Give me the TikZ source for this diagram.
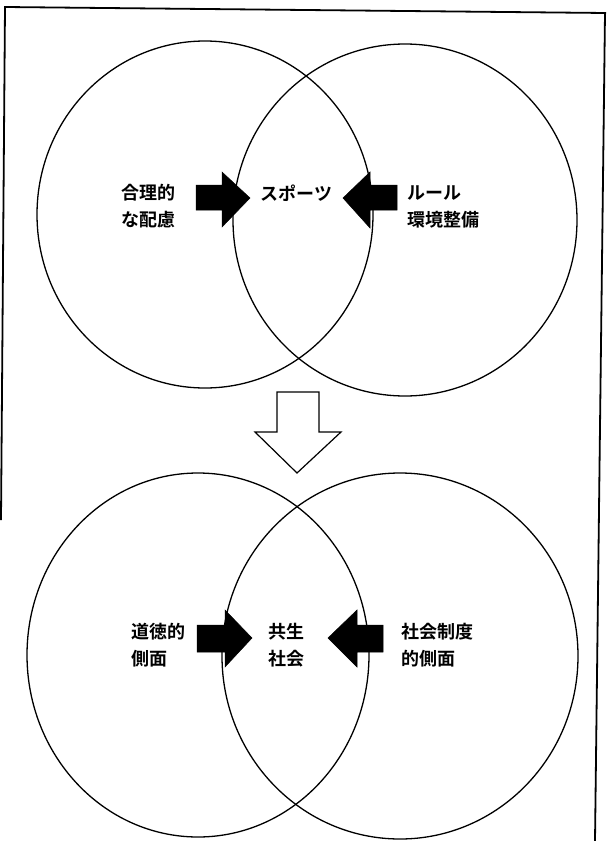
\documentclass[tikz,border=0pt]{standalone}
\usepackage{fontspec}
\newfontfamily\jp{Noto Sans CJK JP}[BoldFont={* Bold}]
\begin{document}
\begin{tikzpicture}[x=1pt,y=-1pt,
  ring/.style={draw=black,line width=1.3pt},
  blk/.style={fill=black,draw=black,line width=0.5pt},
  lbl/.style={font=\jp\bfseries\fontsize{18}{27}\selectfont,inner sep=0pt,align=left},
  frm/.style={draw=black,line width=1.8pt}]
\useasboundingbox (0,0) rectangle (608,841);
% frame
\coordinate (fa) at (1,520);
\coordinate (fb) at (5,7);
\coordinate (fc) at (606,13);
\coordinate (fd) at (595,841);
\draw[frm] (fa) -- (fb) -- (fc);
\draw[frm] (605,13) -- (fd);
% circles
\draw[ring] (205,214.5) ellipse [x radius=168pt, y radius=173.5pt];
\draw[ring] (405,220) ellipse [x radius=172pt, y radius=176pt];
\draw[ring] (198,655) ellipse [x radius=171pt, y radius=182pt];
\draw[ring] (400,656) ellipse [x radius=178pt, y radius=183pt];
% upper arrows
\fill[blk] (196,185) -- (222,185) -- (222,172) -- (250,198) -- (222,227) -- (222,210) -- (196,210) -- cycle;
\fill[blk] (397,185) -- (370,185) -- (370,172) -- (343,198) -- (370,228) -- (370,210) -- (397,210) -- cycle;
% lower arrows
\fill[blk] (197,625) -- (225,625) -- (225,610) -- (252,638) -- (225,667) -- (225,652) -- (197,652) -- cycle;
\fill[blk] (383,625) -- (357,625) -- (357,610) -- (328,638) -- (357,667) -- (357,652) -- (383,652) -- cycle;
% hollow arrow
\draw[line width=1.2pt,fill=white] (277,392) -- (319,392) -- (319,432) -- (341,432) -- (297,473) -- (255,432) -- (277,432) -- cycle;
% labels
\node[lbl,anchor=west] (a) at (121,206.5) {合理的\\な配慮};
\node[lbl] (b) at (296.5,193) {スポーツ};
\node[lbl,anchor=west] (c) at (407,206.5) {ルール\\環境整備};
\node[lbl,anchor=west] (d) at (131,645) {道徳的\\側面};
\node[lbl] (e) at (286.5,645) {共生\\社会};
\node[lbl,anchor=west] (f) at (401,645) {社会制度\\的側面};
\end{tikzpicture}
\end{document}
